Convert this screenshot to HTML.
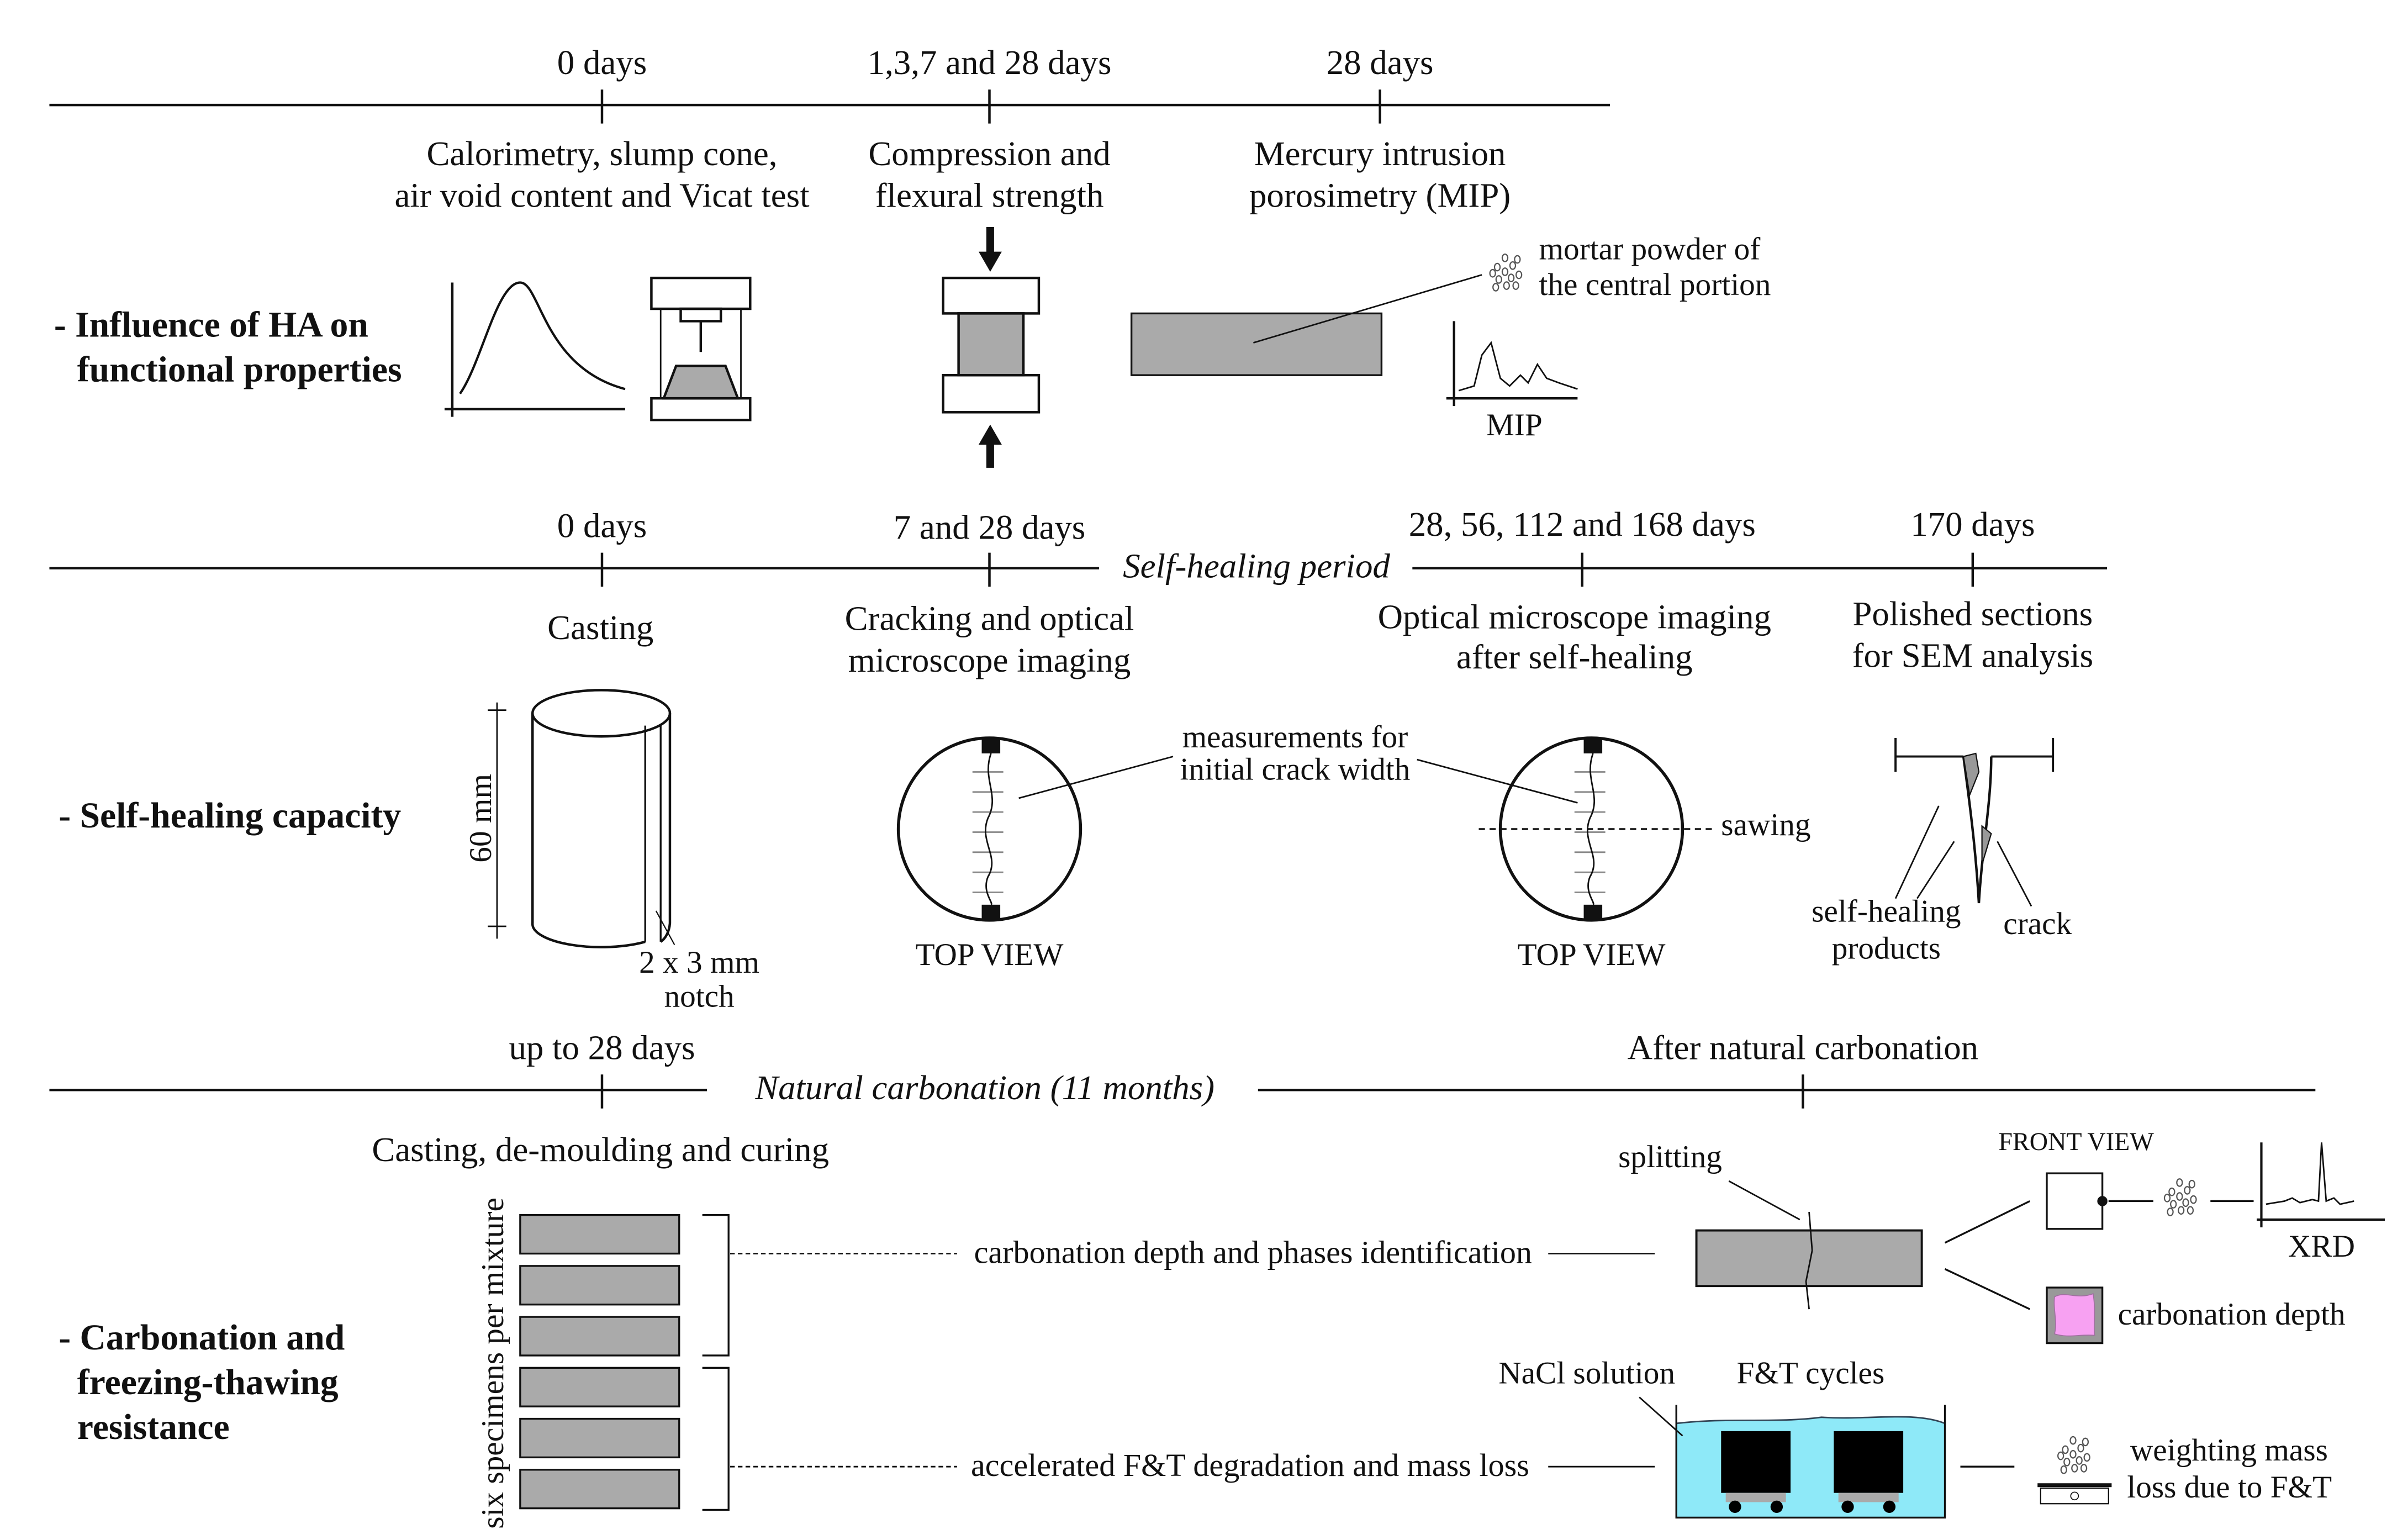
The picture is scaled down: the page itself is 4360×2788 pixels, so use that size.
<!DOCTYPE html>
<html><head><meta charset="utf-8"><style>
html,body{margin:0;padding:0;background:#fff;width:4360px;height:2788px;overflow:hidden}
svg{display:block}
text{font-family:"Liberation Serif",serif;fill:#111;font-size:22.5px}
.b{font-weight:bold;font-size:23.5px}
.i{font-style:italic}
.m{text-anchor:middle}
.s{font-size:20.5px}
</style></head><body>
<svg width="4360" height="2788" viewBox="0 0 1560 997.5" xmlns="http://www.w3.org/2000/svg">
<defs>
<g id="pw" fill="none" stroke="#555" stroke-width="0.8"><ellipse cx="0" cy="0" rx="1.8" ry="2.4"/><ellipse cx="5" cy="-4" rx="1.8" ry="2.4"/><ellipse cx="-4" cy="5" rx="1.8" ry="2.4"/><ellipse cx="4" cy="4" rx="1.8" ry="2.4"/><ellipse cx="-5" cy="-3" rx="1.8" ry="2.4"/><ellipse cx="9" cy="2" rx="1.8" ry="2.4"/><ellipse cx="-8" cy="1" rx="1.8" ry="2.4"/><ellipse cx="1" cy="9" rx="1.8" ry="2.4"/><ellipse cx="0" cy="-9" rx="1.8" ry="2.4"/><ellipse cx="7" cy="9" rx="1.8" ry="2.4"/><ellipse cx="-6" cy="10" rx="1.8" ry="2.4"/><ellipse cx="8" cy="-8" rx="1.8" ry="2.4"/></g>
</defs>
<g stroke="#111" stroke-width="1.6" fill="none">
<line x1="32" y1="68" x2="1043" y2="68"/>
<line x1="390" y1="58" x2="390" y2="80"/><line x1="641" y1="58" x2="641" y2="80"/><line x1="894" y1="58" x2="894" y2="80"/>
<path d="M293 183 V270 M288 265 H405"/>
<path d="M298 255 C312 235 322 183 337 183 C350 183 352 238 405 252" stroke-width="1.5"/>
<rect x="422" y="180" width="64" height="20"/>
<path d="M428 200 V258 M480 200 V258" stroke-width="1"/>
<rect x="441" y="200" width="26" height="8"/>
<line x1="454" y1="208" x2="454" y2="228"/>
<rect x="422" y="258" width="64" height="14"/>
<polygon points="438,237 470,237 478,258 430,258" fill="#aaa"/>
<rect x="611" y="180" width="62" height="23"/>
<rect x="621" y="203" width="42" height="40" fill="#aaa"/>
<rect x="611" y="243" width="62" height="24"/>
<rect x="733" y="203" width="162" height="40" fill="#aaa" stroke-width="1.2"/>
<line x1="812" y1="222" x2="960" y2="178" stroke-width="1"/>
<path d="M942 208 V263 M937 258 H1022"/>
<path d="M945 253 L955 250 L960 230 L966 222 L972 245 L978 250 L985 243 L990 248 L996 236 L1002 245 L1010 248 L1022 252" stroke-width="1"/>
<line x1="32" y1="368" x2="712" y2="368"/><line x1="915" y1="368" x2="1365" y2="368"/>
<line x1="390" y1="358" x2="390" y2="380"/><line x1="641" y1="358" x2="641" y2="380"/><line x1="1025" y1="358" x2="1025" y2="380"/><line x1="1278" y1="358" x2="1278" y2="380"/>
<path d="M345 462 A44.5 15 0 0 1 434 462 A44.5 15 0 0 1 345 462 Z"/>
<path d="M345 462 V598 A44.5 15 0 0 0 418 610 M434 462 V598 A10 15 0 0 1 428 610"/>
<path d="M418 470 V610 M428 469 V610" stroke-width="1.2"/>
<path d="M322 455 V608 M316 460 H328 M316 600 H328" stroke-width="1"/>
<line x1="425" y1="590" x2="437" y2="612" stroke-width="0.8"/>
<circle cx="641" cy="537" r="59" stroke-width="2"/>
<circle cx="1031" cy="537" r="59" stroke-width="2"/>
<g stroke-width="1" stroke="#888">
<path d="M630 500 H650 M630 513 H650 M630 526 H650 M630 539 H650 M630 552 H650 M630 565 H650 M630 578 H650"/>
<path d="M1020 500 H1040 M1020 513 H1040 M1020 526 H1040 M1020 539 H1040 M1020 552 H1040 M1020 565 H1040 M1020 578 H1040"/>
</g>
<path d="M642 488 C636 505 648 515 640 530 C634 545 648 555 640 568 C636 578 644 585 642 586" stroke-width="1"/>
<path d="M1032 488 C1026 505 1038 515 1030 530 C1024 545 1038 555 1030 568 C1026 578 1034 585 1032 586" stroke-width="1"/>
<line x1="660" y1="517" x2="760" y2="490" stroke-width="1"/>
<line x1="918" y1="492" x2="1022" y2="520" stroke-width="1"/>
<line x1="958" y1="537" x2="1110" y2="537" stroke-dasharray="4,3" stroke-width="1.2"/>
<path d="M1228 490 H1272 M1290 490 H1330 M1228 478 V500 M1330 478 V500" stroke-width="1.4"/>
<path d="M1272 490 C1276 520 1280 550 1282 585 C1284 550 1290 520 1290 490" fill="#fff"/>
<path d="M1272 490 L1280 488 L1282 500 L1276 515 Z M1284 535 L1290 540 L1284 560 Z" fill="#999" stroke-width="0.8"/>
<path d="M1256 522 L1228 582 M1266 545 L1242 582 M1294 545 L1316 587" stroke-width="1"/>
<line x1="32" y1="706" x2="458" y2="706"/><line x1="815" y1="706" x2="1500" y2="706"/>
<line x1="390" y1="696" x2="390" y2="718"/><line x1="1168" y1="696" x2="1168" y2="718"/>
<g fill="#aaa" stroke-width="1.2">
<rect x="337" y="787" width="103" height="25"/><rect x="337" y="820" width="103" height="25"/><rect x="337" y="853" width="103" height="25"/>
<rect x="337" y="886" width="103" height="25"/><rect x="337" y="919" width="103" height="25"/><rect x="337" y="952" width="103" height="25"/>
</g>
<path d="M455 787 H472 V878 H455 M455 886 H472 V978 H455" stroke-width="1.2"/>
<path d="M473 812 H620 M473 950 H620" stroke-dasharray="3,2" stroke-width="1"/>
<path d="M1003 812 H1072 M1003 950 H1072" stroke-width="1"/>
<rect x="1099" y="797" width="146" height="36" fill="#aaa" stroke-width="1.4"/>
<path d="M1172 785 L1174 810 L1170 830 L1172 848" stroke-width="1"/>
<line x1="1120" y1="765" x2="1166" y2="790" stroke-width="1"/>
<path d="M1260 805 L1315 778 M1260 822 L1315 848" stroke-width="1.2"/>
<rect x="1326" y="760" width="36" height="36" fill="#fff" stroke-width="1.2"/>
<circle cx="1362" cy="778" r="2.5" fill="#111"/>
<path d="M1366 778 H1395 M1432 778 H1460" stroke-width="1.2"/>
<path d="M1465 740 V795 M1462 790 H1545" stroke-width="1.5"/>
<path d="M1468 780 L1480 778 L1485 776 L1490 779 L1498 777 L1502 778 L1504 740 L1507 778 L1512 776 L1516 780 L1525 778" stroke-width="1"/>
<rect x="1326" y="834" width="36" height="36" fill="#999" stroke-width="1.2"/>
<path d="M1331 840 C1338 836 1345 842 1356 838 C1358 850 1356 858 1357 865 C1348 864 1340 867 1331 864 C1333 856 1330 848 1331 840 Z" fill="#f7a1f2" stroke="#a070a0" stroke-width="0.6"/>
<path d="M1086 922 C1120 918 1150 922 1180 918 C1210 920 1240 914 1260 922 V983 H1086 Z" fill="#8ee9f8" stroke="none"/>
<path d="M1086 922 C1120 918 1150 922 1180 918 C1210 920 1240 914 1260 922" stroke="#345" stroke-width="1"/>
<path d="M1086 910 V983 H1260 V910" stroke-width="1.2"/>
<line x1="1062" y1="905" x2="1090" y2="930" stroke-width="1"/>
<rect x="1115" y="927" width="45" height="40" fill="#000" stroke="none"/>
<rect x="1188" y="927" width="45" height="40" fill="#000" stroke="none"/>
<rect x="1118" y="967" width="39" height="6" fill="#aaa" stroke="none"/>
<rect x="1191" y="967" width="39" height="6" fill="#aaa" stroke="none"/>
<g fill="#000" stroke="none"><circle cx="1124" cy="976" r="4"/><circle cx="1151" cy="976" r="4"/><circle cx="1197" cy="976" r="4"/><circle cx="1224" cy="976" r="4"/></g>
<line x1="1270" y1="950" x2="1305" y2="950" stroke-width="1.2"/>
<line x1="1320" y1="962" x2="1368" y2="962" stroke-width="2.5"/>
<rect x="1322" y="964" width="44" height="10" stroke-width="0.8"/>
<circle cx="1344" cy="969" r="2.5" stroke-width="0.6"/>
</g>
<g fill="#111">
<rect x="639" y="147" width="5" height="18"/><polygon points="634,163 649,163 641.5,176"/>
<rect x="639" y="286" width="5" height="17"/><polygon points="634,288 649,288 641.5,275"/>
<rect x="636" y="478" width="12" height="10"/><rect x="636" y="586" width="12" height="10"/>
<rect x="1026" y="478" width="12" height="10"/><rect x="1026" y="586" width="12" height="10"/>
</g>
<use href="#pw" x="975" y="176"/>
<use href="#pw" x="1412" y="775"/>
<use href="#pw" x="1343" y="942"/>
<text class="m" x="390" y="48">0 days</text>
<text class="m" x="641" y="48">1,3,7 and 28 days</text>
<text class="m" x="894" y="48">28 days</text>
<text class="m" x="390" y="107">Calorimetry, slump cone,</text>
<text class="m" x="390" y="134">air void content and Vicat test</text>
<text class="m" x="641" y="107">Compression and</text>
<text class="m" x="641" y="134">flexural strength</text>
<text class="m" x="894" y="107">Mercury intrusion</text>
<text class="m" x="894" y="134">porosimetry (MIP)</text>
<text x="997" y="168" class="s">mortar powder of</text>
<text x="997" y="191" class="s">the central portion</text>
<text class="m s" x="981" y="282">MIP</text>
<text class="b" x="35" y="218">- Influence of HA on</text>
<text class="b" x="50" y="247">functional properties</text>
<text class="m" x="390" y="348">0 days</text>
<text class="m" x="641" y="349">7 and 28 days</text>
<text class="m" x="1025" y="347">28, 56, 112 and 168 days</text>
<text class="m" x="1278" y="347">170 days</text>
<text class="m i" x="814" y="374">Self-healing period</text>
<text class="m" x="389" y="414">Casting</text>
<text class="m" x="641" y="408">Cracking and optical</text>
<text class="m" x="641" y="435">microscope imaging</text>
<text class="m" x="1020" y="407">Optical microscope imaging</text>
<text class="m" x="1020" y="433">after self-healing</text>
<text class="m" x="1278" y="405">Polished sections</text>
<text class="m" x="1278" y="432">for SEM analysis</text>
<text class="b" x="38" y="536">- Self-healing capacity</text>
<text class="m s" x="0" y="0" transform="translate(318,530) rotate(-90)">60 mm</text>
<text class="m s" x="453" y="630">2 x 3 mm</text>
<text class="m s" x="453" y="652">notch</text>
<text class="m s" x="641" y="625">TOP VIEW</text>
<text class="m s" x="1031" y="625">TOP VIEW</text>
<text class="m s" x="839" y="484">measurements for</text>
<text class="m s" x="839" y="505">initial crack width</text>
<text x="1115" y="541" class="s">sawing</text>
<text class="m s" x="1222" y="597">self-healing</text>
<text class="m s" x="1222" y="621">products</text>
<text class="m s" x="1320" y="605">crack</text>
<text class="m" x="390" y="686">up to 28 days</text>
<text class="m" x="1168" y="686">After natural carbonation</text>
<text class="m i" x="638" y="712">Natural carbonation (11 months)</text>
<text class="m" x="389" y="752">Casting, de-moulding and curing</text>
<text class="b" x="38" y="874">- Carbonation and</text>
<text class="b" x="50" y="903">freezing-thawing</text>
<text class="b" x="50" y="932">resistance</text>
<text class="m s" x="0" y="0" transform="translate(326,883) rotate(-90)">six specimens per mixture</text>
<text x="631" y="818" class="s" style="font-size:20.8px">carbonation depth and phases identification</text>
<text x="629" y="956" class="s" style="font-size:20.8px">accelerated F&amp;T degradation and mass loss</text>
<text class="m s" x="1082" y="756">splitting</text>
<text class="m" x="1345" y="745" style="font-size:16.5px">FRONT VIEW</text>
<text class="m s" x="1504" y="814">XRD</text>
<text x="1372" y="858" class="s">carbonation depth</text>
<text class="m s" x="1028" y="896">NaCl solution</text>
<text class="m s" x="1173" y="896">F&amp;T cycles</text>
<text x="1380" y="946" class="s">weighting mass</text>
<text x="1378" y="970" class="s">loss due to F&amp;T</text>
</svg>
</body></html>
